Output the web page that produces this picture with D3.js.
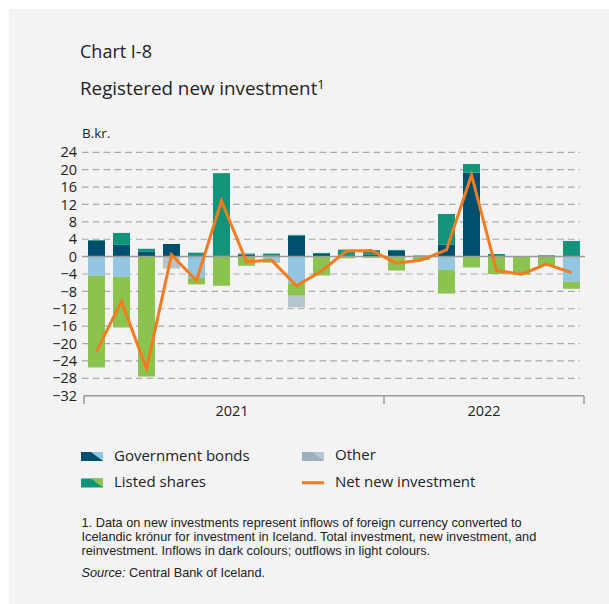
<!DOCTYPE html>
<html>
<head>
<meta charset="utf-8">
<script src="https://cdn.jsdelivr.net/npm/d3@7"></script>
<style>
  body { margin: 0; background: #fff; }
  svg { display: block; font-family: "Open Sans", sans-serif; }
</style>
</head>
<body>
<div id="chart"></div>
<script>
// monthly data, b.kr.
const months = ["2021-01","2021-02","2021-03","2021-04","2021-05","2021-06","2021-07","2021-08","2021-09","2021-10","2021-11","2021-12",
                "2022-01","2022-02","2022-03","2022-04","2022-05","2022-06","2022-07","2022-08"];
const govIn     = [3.6, 2.7, 1.1, 2.9, 0.3, 0.3, 0.5, 0.2, 4.8, 0.6, 0, 0.5, 1.3, 0, 2.7, 19.3, 0, 0, 0, 0];
const sharesIn  = [0.2, 2.75, 0.7, 0, 0.6, 18.9, 0.2, 0.5, 0.2, 0.25, 1.6, 1.0, 0.25, 0.25, 7.1, 2.0, 0.6, 0, 0.3, 3.6];
const govOut    = [-4.4, -4.7, 0, 0, -4.9, 0, 0, -1.1, -6.1, 0, 0, 0, 0, 0, -3.05, 0, 0, 0, 0, -5.8];
const sharesOut = [-21.1, -11.6, -27.6, 0, -1.5, -6.7, -2.1, -0.3, -2.9, -4.35, -0.4, -0.3, -3.2, -0.75, -5.45, -2.5, -4.0, -4.2, -2.1, -1.6];
const otherOut  = [0, 0, 0, -2.75, 0, 0, 0, 0, -2.7, 0, 0, 0, 0, 0, 0, 0, 0, 0, 0, 0];
const netNew    = [-21.8, -10.3, -25.8, 0.4, -5.5, 12.8, -1.2, -0.8, -6.7, -3.3, 1.3, 1.4, -1.5, -0.8, 1.55, 18.8, -3.2, -4.05, -1.7, -3.7];
const yTicks = [24, 20, 16, 12, 8, 4, 0, -4, -8, -12, -16, -20, -24, -28, -32];
const years = ["2021", "2022"];

const w = 609, h = 604;
const colors = {
    govIn: "#004f6f", sharesIn: "#139379",
    govOut: "#93c6e0", sharesOut: "#8bc34f", otherOut: "#b6c4cb"
};

let svg = d3.select("#chart").append("svg")
    .attr("width", w)
    .attr("height", h);

svg.append("rect").attr("x", 9).attr("y", 9).attr("width", w - 9).attr("height", h - 9).attr("fill", "#f3f3f3");

// titles
svg.append("text").attr("x", 80).attr("y", 58).attr("font-size", 18).attr("fill", "#222").text("Chart I-8");
let title = svg.append("text").attr("x", 80).attr("y", 95).attr("font-size", 18.8).attr("fill", "#222");
title.append("tspan").text("Registered new investment");
title.append("tspan").attr("font-size", 13).attr("dy", -6).text("1");
svg.append("text").attr("x", 82).attr("y", 138).attr("font-size", 13.5).attr("fill", "#222").text("B.kr.");

// scales
let x = d3.scaleBand().domain(months).range([84, 584]).paddingInner(0.32).paddingOuter(0.16);
let y = d3.scaleLinear().domain([-32, 24]).range([395.7, 152.3]);

// gridlines
svg.append("g").selectAll("line")
    .data(yTicks.filter(d => d !== 0 && d !== -32))
    .enter().append("line")
    .attr("x1", 82).attr("x2", 580)
    .attr("y1", d => y(d)).attr("y2", d => y(d))
    .attr("stroke", "#a9a9a9")
    .attr("stroke-width", 1.2)
    .attr("stroke-dasharray", "6.5,4.3");

// y tick labels
let yAxis = d3.axisLeft(y).tickValues(yTicks).tickSize(0).tickPadding(0);
let gy = svg.append("g").attr("transform", "translate(77,0)").call(yAxis);
gy.select(".domain").remove();
gy.selectAll("text").attr("font-size", 14.5).attr("fill", "#222").attr("font-family", "Open Sans, sans-serif");

// stacked bars
let rows = months.map((m, i) => ({
    month: m, govIn: govIn[i], sharesIn: sharesIn[i],
    govOut: govOut[i], sharesOut: sharesOut[i], otherOut: otherOut[i]
}));
let keys = ["govIn", "sharesIn", "govOut", "sharesOut", "otherOut"];
let series = d3.stack().keys(keys).offset(d3.stackOffsetDiverging)(rows);

svg.append("g").selectAll("g")
    .data(series)
    .enter().append("g")
    .attr("fill", d => colors[d.key])
    .selectAll("rect")
    .data(d => d)
    .enter().append("rect")
    .attr("x", d => x(d.data.month))
    .attr("width", x.bandwidth())
    .attr("y", d => y(Math.max(d[0], d[1])))
    .attr("height", d => Math.abs(y(d[0]) - y(d[1])));

// zero line
svg.append("line")
    .attr("x1", 82).attr("x2", 585)
    .attr("y1", y(0)).attr("y2", y(0))
    .attr("stroke", "#9a9a9a").attr("stroke-width", 1.5);

// net line
let line = d3.line()
    .x((d, i) => x(months[i]) + x.bandwidth() / 2)
    .y(d => y(d));
svg.append("path")
    .datum(netNew)
    .attr("d", line)
    .attr("fill", "none")
    .attr("stroke", "#f47b20")
    .attr("stroke-width", 3)
    .attr("stroke-linejoin", "miter");

// x axis with year ticks
let xYear = d3.scaleLinear().domain([0, 20]).range([84, 584]);
svg.append("line")
    .attr("x1", xYear(0)).attr("x2", xYear(20))
    .attr("y1", 395.7).attr("y2", 395.7)
    .attr("stroke", "#9a9a9a").attr("stroke-width", 1.5);
svg.append("g").selectAll("line")
    .data([0, 12, 20])
    .enter().append("line")
    .attr("x1", d => xYear(d)).attr("x2", d => xYear(d))
    .attr("y1", 395.7).attr("y2", 404)
    .attr("stroke", "#9a9a9a").attr("stroke-width", 1.5);
svg.append("g").selectAll("text")
    .data(years)
    .enter().append("text")
    .attr("x", (d, i) => i === 0 ? xYear(6) - 2 : xYear(16))
    .attr("y", 415.5)
    .attr("text-anchor", "middle")
    .attr("font-size", 14.5)
    .attr("fill", "#222")
    .text(d => d);

// legend
function swatch(g, x0, y0, dark, light) {
    let sw = 22, sh = 9;
    g.append("polygon")
        .attr("points", [[x0, y0], [x0 + sw, y0], [x0 + sw, y0 + sh], [x0, y0 + sh]].join(" "))
        .attr("fill", dark);
    g.append("polygon")
        .attr("points", [[x0 + sw * 0.45, y0], [x0 + sw, y0], [x0 + sw, y0 + sh]].join(" "))
        .attr("fill", light);
}
let lg = svg.append("g");
swatch(lg, 81, 452, colors.govIn, colors.govOut);
swatch(lg, 81, 478.5, colors.sharesIn, colors.sharesOut);
swatch(lg, 302, 452, "#9cb1bc", "#b9c7ce");
lg.append("line").attr("x1", 302).attr("x2", 324).attr("y1", 482.7).attr("y2", 482.7)
    .attr("stroke", "#f47b20").attr("stroke-width", 3);
let legendText = [
    { t: "Government bonds", x: 114, y: 460.5 },
    { t: "Listed shares", x: 114, y: 487 },
    { t: "Other", x: 335, y: 460 },
    { t: "Net new investment", x: 335, y: 487 }
];
lg.selectAll("text").data(legendText).enter().append("text")
    .attr("x", d => d.x).attr("y", d => d.y)
    .attr("font-size", 15).attr("fill", "#222")
    .text(d => d.t);

// footnote (tighter font so the 14px line spacing fits)
let notes = [
    "1. Data on new investments represent inflows of foreign currency converted to",
    "Icelandic kr\u00f3nur for investment in Iceland. Total investment, new investment, and",
    "reinvestment. Inflows in dark colours; outflows in light colours."
];
let fnFont = "Liberation Sans, Arial, sans-serif";
svg.append("g").selectAll("text").data(notes).enter().append("text")
    .attr("x", 81.5).attr("y", (d, i) => 526.5 + i * 14.3)
    .attr("font-family", fnFont)
    .attr("font-size", 12.75).attr("fill", "#222")
    .text(d => d);
let src = svg.append("text").attr("x", 81.5).attr("y", 577)
    .attr("font-family", fnFont).attr("font-size", 12.75).attr("fill", "#222");
src.append("tspan").attr("font-style", "italic").text("Source:");
src.append("tspan").text(" Central Bank of Iceland.");
</script>
</body>
</html>
